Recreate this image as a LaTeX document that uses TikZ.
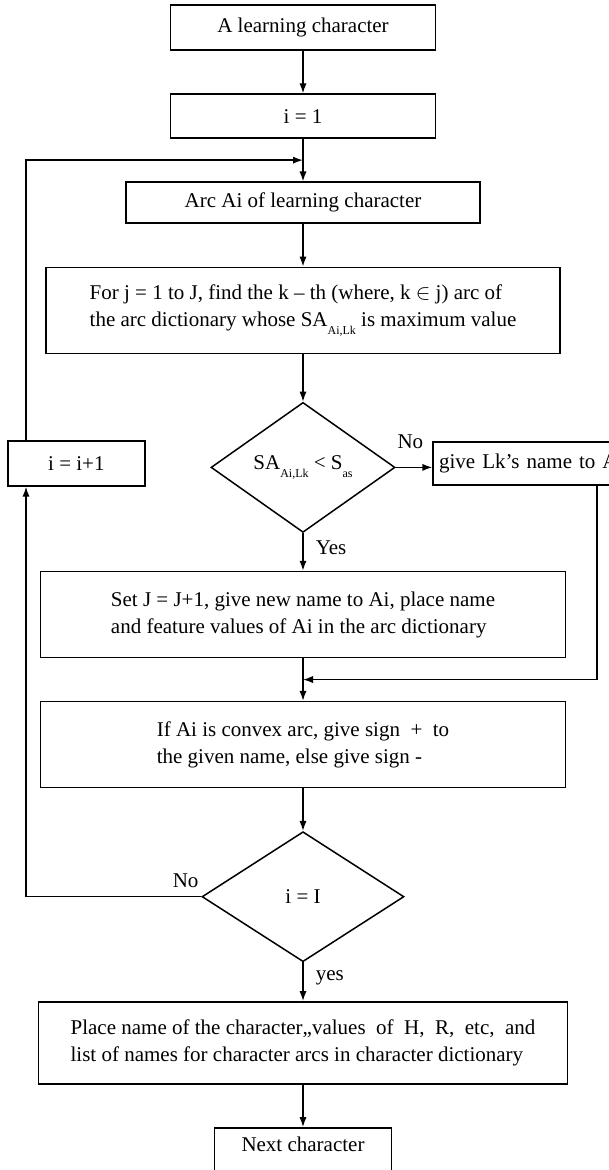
\documentclass[tikz,border=0pt]{standalone}
\usepackage{fontspec}
\setmainfont{Liberation Serif}
\usetikzlibrary{arrows.meta,positioning,shapes.geometric,calc}
\newcommand{\sbs}[1]{\raisebox{-0.8ex}{\fontsize{6}{6}\selectfont #1}}
\tikzset{
  flowbox/.style={draw=black,line width=0.75pt,align=center,inner sep=3pt,font=\fontsize{10.5}{13.5}\selectfont},
  testbox/.style={diamond,draw=black,line width=0.75pt,inner sep=0pt,font=\fontsize{10.5}{13.5}\selectfont},
  flowarrow/.style={-{Latex[length=5pt,width=3.6pt]},line width=0.75pt},
  branch/.style={font=\fontsize{10.5}{12}\selectfont,inner sep=1pt}
}
\begin{document}
\begin{tikzpicture}[x=0.5pt,y=-0.5pt,node distance=21.3pt]
\useasboundingbox (0,0) rectangle (609,1170);
% main column
\node[flowbox,minimum width=132.5pt,minimum height=22.5pt] (start) at (303,27.5) {A learning character};
\node[flowbox,below=of start,minimum width=132.5pt,minimum height=22pt] (init) {i = 1};
\node[flowbox,below=of init,minimum width=177pt,minimum height=20.5pt] (arc) {Arc Ai of learning character};
\node[flowbox,below=of arc,minimum width=257pt,minimum height=43pt,align=left] (find) {For j = 1 to J, find the k -- th (where, k $\in$ j) arc of\\the arc dictionary whose SA\sbs{Ai,Lk} is maximum value};
\node[testbox,below=23.8pt of find,minimum width=92pt,minimum height=65pt,aspect=1.4] (test1) {SA\sbs{Ai,Lk} < S\sbs{as}};
\node[flowbox,below=18.8pt of test1,minimum width=262.5pt,minimum height=43pt,align=left] (newname) {Set J = J+1, give new name to Ai, place name\\and feature values of Ai in the arc dictionary};
\node[flowbox,below=of newname,minimum width=262.5pt,minimum height=43pt,align=left] (sign) {If Ai is convex arc, give sign~ + ~to\\the given name, else give sign -};
\node[testbox,below=of sign,minimum width=101pt,minimum height=65pt,aspect=1.55] (test2) {i = I};
\node[flowbox,below=19.3pt of test2,minimum width=264.5pt,minimum height=41pt,align=left] (place) {Place name of the character,,values~ of~ H,~ R,~ etc,~ and\\list of names for character arcs in character dictionary};
\node[flowbox,below=of place,minimum width=88.5pt,minimum height=22pt,text depth=6pt] (next) {Next character};
% side boxes
\node[flowbox,left=32.3pt of test1,yshift=2pt,minimum width=68.5pt,minimum height=22.5pt] (incr) {i = i+1};
\node[flowbox,right=18.3pt of test1,yshift=2pt,minimum width=103pt,minimum height=21.5pt,text width=97pt,align=left] (give) {give Lk's name to Ai};
\coordinate (back) at ($(init.south)!0.5!(arc.north)$);
\coordinate (merge) at ($(newname.south)!0.5!(sign.north)$);
\coordinate (rail) at (26,0);
\coordinate (rgt) at (597,0);

\draw[flowarrow] (start) -- (init);
\draw[flowarrow] (init) -- (arc);
\draw[flowarrow] (arc) -- (find);
\draw[flowarrow] (find) -- (test1);
\draw[flowarrow] (test1) -- node[branch,right=5pt,pos=0.4] {Yes} (newname);
\draw[flowarrow] (test1.east) -- node[branch,above,pos=0.4,yshift=8pt] {No} (test1.east -| give.west);
\draw[flowarrow] (give.south -| rgt) |- (merge);
\draw[flowarrow] (newname) -- (sign);
\draw[flowarrow] (sign) -- (test2);
\draw[flowarrow] (test2) -- node[branch,right=5pt,pos=0.4] {yes} (place);
\draw[flowarrow] (place) -- (next);
% loop back
\draw[flowarrow] (test2.west) -- node[branch,pos=0,above left,yshift=3pt] {No} (test2.west -| rail) -- (incr.south -| rail);
\draw[flowarrow] (incr.north -| rail) |- (back);
\end{tikzpicture}
\end{document}
